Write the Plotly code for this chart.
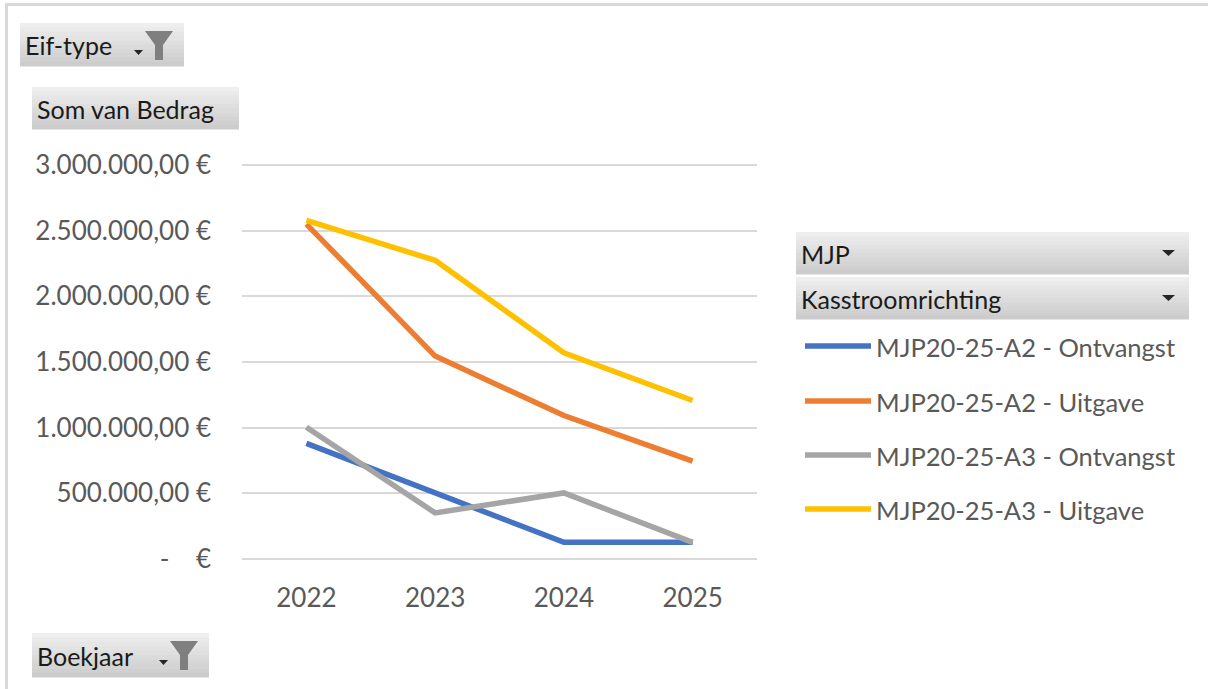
import plotly.graph_objects as go

# ---- data ----
years = ["2022", "2023", "2024", "2025"]
series_names = [
    "MJP20-25-A2 - Ontvangst",
    "MJP20-25-A2 - Uitgave",
    "MJP20-25-A3 - Ontvangst",
    "MJP20-25-A3 - Uitgave",
]
a2_ontvangst = [880000, 505000, 127000, 127000]
a2_uitgave = [2550000, 1545000, 1092000, 745000]
a3_ontvangst = [1003000, 351000, 503000, 127000]
a3_uitgave = [2578000, 2274000, 1570000, 1207000]
y_tickvals = [0, 500000, 1000000, 1500000, 2000000, 2500000, 3000000]
y_ticktext = [
    "-\u00a0\u00a0\u00a0\u00a0€",
    "500.000,00 €",
    "1.000.000,00 €",
    "1.500.000,00 €",
    "2.000.000,00 €",
    "2.500.000,00 €",
    "3.000.000,00 €",
]
colors = ["#4472C4", "#ED7D31", "#A5A5A5", "#FFC000"]
all_series = [a2_ontvangst, a2_uitgave, a3_ontvangst, a3_uitgave]

W, H = 1208, 689
PL, PR, PB = 242, 757, 559          # plot area in pixels
Y_MAX_PX = 165                      # pixel row of the 3.000.000 gridline
Y_TOP = 3015000                     # axis range top (slightly above last gridline)
PT = PB - (PB - Y_MAX_PX) * Y_TOP / 3000000
FONT = "Lato"
TICK_SIZE = 26
LEG_SIZE = 25.5
BTN_SIZE = 25


def px(x):
    return (x - PL) / (PR - PL)


def py(y):
    return (PB - y) / (PB - PT)


fig = go.Figure()
for name, vals, col in zip(series_names, all_series, colors):
    fig.add_trace(go.Scatter(x=years, y=vals, mode="lines", name=name,
                             line=dict(color=col, width=5.5),
                             showlegend=False, hoverinfo="x+y+name"))

shapes = []
annotations = []

# outer chart border (left + top)
shapes.append(dict(type="line", xref="paper", yref="paper", x0=px(6.5), x1=px(6.5),
                   y0=py(3), y1=py(700), line=dict(color="#D9D9D9", width=3)))
shapes.append(dict(type="line", xref="paper", yref="paper", x0=px(5), x1=px(1220),
                   y0=py(4.5), y1=py(4.5), line=dict(color="#D9D9D9", width=3)))


def button(x0, y0, x1, y1, label, funnel=False, arrow=False):
    n = 10
    top = (238, 238, 238)
    bot = (204, 204, 204)
    for i in range(n):
        t = i / (n - 1)
        c = tuple(int(round(top[k] + (bot[k] - top[k]) * t)) for k in range(3))
        ya = y0 + (y1 - y0) * i / n
        yb = y0 + (y1 - y0) * (i + 1) / n
        shapes.append(dict(type="rect", xref="paper", yref="paper",
                           x0=px(x0), x1=px(x1), y0=py(ya), y1=py(yb + 0.6),
                           line=dict(width=0), fillcolor="rgb(%d,%d,%d)" % c,
                           layer="above"))
    annotations.append(dict(xref="paper", yref="paper", x=px(x0 + 3), y=py((y0 + y1) / 2 + 1),
                            xanchor="left", yanchor="middle", text=label, showarrow=False,
                            font=dict(family=FONT, size=BTN_SIZE, color="#1A1A1A")))
    if funnel:
        fx = x1 - 39
        fy = y0 + 8
        path = ("M %f,%f L %f,%f L %f,%f L %f,%f L %f,%f L %f,%f Z" % (
            px(fx), py(fy), px(fx + 28), py(fy), px(fx + 18), py(fy + 14), px(fx + 18), py(fy + 29),
            px(fx + 10), py(fy + 29), px(fx + 10), py(fy + 14)))
        shapes.append(dict(type="path", xref="paper", yref="paper", path=path,
                           fillcolor="#7F7F7F", line=dict(width=0), layer="above"))
        ax = fx - 11
        ay = fy + 19
        tri = "M %f,%f L %f,%f L %f,%f Z" % (px(ax), py(ay), px(ax + 9), py(ay), px(ax + 4.5), py(ay + 5))
        shapes.append(dict(type="path", xref="paper", yref="paper", path=tri,
                           fillcolor="#262626", line=dict(width=0), layer="above"))
    if arrow:
        ax = 1162
        ay = (y0 + y1) / 2 - 3
        tri = "M %f,%f L %f,%f L %f,%f Z" % (px(ax), py(ay), px(ax + 13), py(ay), px(ax + 6.5), py(ay + 6))
        shapes.append(dict(type="path", xref="paper", yref="paper", path=tri,
                           fillcolor="#262626", line=dict(width=0), layer="above"))


button(20, 23, 184, 66, "Eif-type", funnel=True)
button(32, 87, 239, 129, "Som van Bedrag")
button(32, 633, 209, 677, "Boekjaar", funnel=True)
button(796, 232, 1189, 274, "MJP", arrow=True)
button(796, 277, 1189, 319, "Kasstroomrichting", arrow=True)

# legend (manual, Excel style)
leg_y = [346, 401, 455, 509]
for name, col, ly in zip(series_names, colors, leg_y):
    shapes.append(dict(type="line", xref="paper", yref="paper", x0=px(805), x1=px(871),
                       y0=py(ly), y1=py(ly), line=dict(color=col, width=5.5)))
    annotations.append(dict(xref="paper", yref="paper", x=px(874), y=py(ly + 1),
                            xanchor="left", yanchor="middle", text=name, showarrow=False,
                            font=dict(family=FONT, size=LEG_SIZE, color="#595959")))

fig.update_layout(
    width=W, height=H,
    margin=dict(l=PL, r=W - PR, t=PT, b=H - PB, pad=0),
    paper_bgcolor="white", plot_bgcolor="white",
    font=dict(family=FONT, size=TICK_SIZE, color="#595959"),
    showlegend=False,
    shapes=shapes,
    annotations=annotations,
    xaxis=dict(type="category", range=[-0.5, 3.5], showgrid=False, showline=False,
               zeroline=False, ticks="", ticklabelstandoff=21, automargin=False,
               tickfont=dict(family=FONT, size=TICK_SIZE, color="#595959"), fixedrange=True),
    yaxis=dict(range=[0, Y_TOP], tickvals=y_tickvals, ticktext=y_ticktext,
               showgrid=True, gridcolor="#D9D9D9", gridwidth=2,
               zeroline=True, zerolinecolor="#D9D9D9", zerolinewidth=2,
               showline=False, ticks="", ticklabelstandoff=30, automargin=False,
               tickfont=dict(family=FONT, size=TICK_SIZE, color="#595959"), fixedrange=True),
)

fig.write_html("out.html", config={"displayModeBar": False},
               post_script="document.body.style.margin='0';document.body.style.overflow='hidden';")
